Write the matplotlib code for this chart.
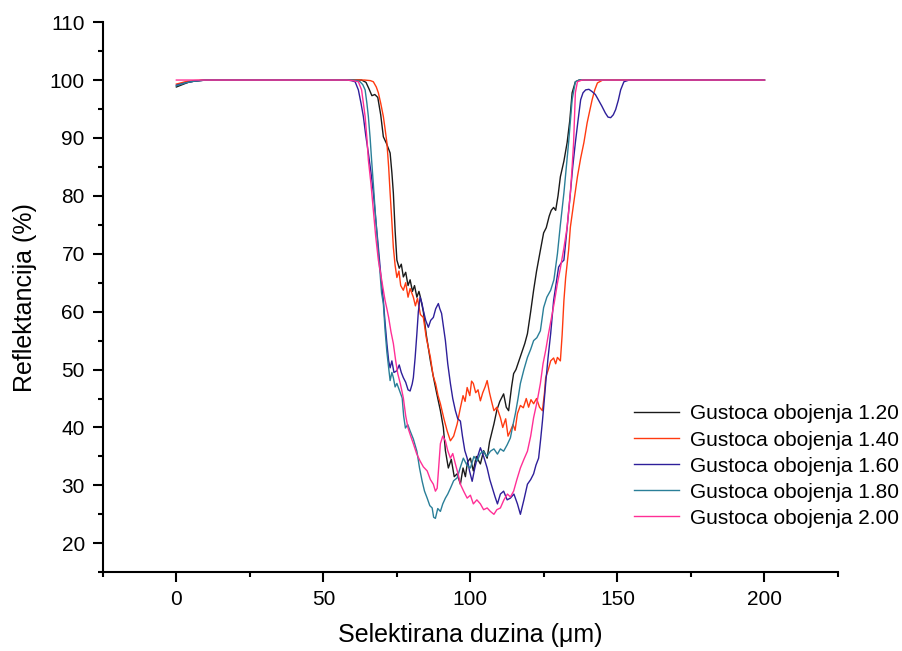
import matplotlib
matplotlib.use('Agg')
import matplotlib.pyplot as plt
from matplotlib.ticker import MultipleLocator

plt.rcParams['font.family'] = ['Liberation Sans', 'DejaVu Sans']

labels = ['Gustoca obojenja 1.20', 'Gustoca obojenja 1.40', 'Gustoca obojenja 1.60',
          'Gustoca obojenja 1.80', 'Gustoca obojenja 2.00']
colors = ['#1a1a1a', '#ff3a10', '#2e1f9a', '#2a7f98', '#ff2f96']

# (x in um, reflectance in %)
x_120 = [0, 2, 4, 6, 8, 10, 60, 63, 64.5, 65.5, 66.5, 67.5, 68.5, 69.5, 70.4, 71.5, 72.7, 73.3, 73.8, 74.4,
         75, 75.8, 76.5, 77.2, 78, 78.8, 79.5, 80.3, 81, 81.8, 82.5, 83, 84, 85, 86.4, 87.5, 88.5, 89.8,
         90.8, 91.5, 92.5, 93.5, 94.5, 95.5, 96.6, 97.5, 98.3, 99, 100, 101, 102, 103.4, 104.5, 105.7,
         106.5, 108, 109, 110, 111.3, 112.2, 113, 114, 114.7, 115.5, 116.5, 117.5, 118.5, 119.4, 120.5,
         121.5, 122.5, 123.8, 124.9, 125.8, 126.8, 127.5, 128.3, 129, 129.8, 130.6, 131.8, 132.9, 133.8,
         134.6, 135.7, 137, 200]
y_120 = [98.8, 99.2, 99.6, 99.8, 99.9, 100, 100, 100, 99.6, 98.5, 97.3, 97.5, 97.0, 94, 90.2, 89, 87.4, 84,
         80.5, 74, 68.9, 67.5, 68.2, 66, 66.8, 64.5, 65.5, 63.5, 64.5, 62.5, 63.5, 62.5, 60, 56, 51.5, 48.5,
         46, 42.9, 40, 36, 33, 34.5, 31.5, 32, 30.2, 33, 31.5, 34, 34.7, 32.5, 35, 33.7, 36, 34.7, 37.5,
         40.6, 43, 44.5, 45.8, 43.5, 42.9, 47, 49.3, 50, 51.5, 53, 54.5, 56.2, 60, 63.7, 67, 70.6, 73.6,
         74.5, 76.5, 77.5, 78, 77.5, 80, 83.3, 86, 89.2, 93, 97.8, 99.7, 100, 100]

x_140 = [0, 3, 6, 10, 64, 66, 67, 68, 68.7, 69.5, 70.4, 71, 71.6, 72.2, 72.7, 73.3, 73.8, 74.4, 75, 75.7,
         76.3, 77.2, 78, 78.8, 79.5, 80.6, 81.3, 82, 83, 84, 85, 86.4, 87.3, 88.2, 89, 89.8, 91, 92.1,
         93.2, 94.3, 95.5, 96.6, 97.5, 98.2, 98.9, 99.8, 100.4, 101, 101.8, 102.6, 103.4, 104.2, 105,
         105.7, 106.5, 107.2, 108, 109, 110.2, 111, 112, 112.8, 113.6, 114.5, 115.2, 116, 117, 118, 119,
         119.8, 120.6, 121.5, 122.5, 123.5, 124.5, 125.2, 125.6, 126.5, 127.3, 128.3, 129, 129.6, 130.6,
         131.2, 131.8, 132.4, 133.4, 134, 135.2, 136.4, 137.5, 138.6, 139.7, 140.5, 141.4, 142.3, 143.2,
         145, 200]
y_140 = [99.3, 99.7, 99.9, 100, 100, 99.9, 99.7, 98.8, 97.8, 96, 93.7, 91.5, 89.2, 85, 80.5, 75.5, 71.1, 68,
         65.9, 67, 64.5, 63.7, 65, 62.5, 64, 62.5, 61, 62.3, 59.5, 59, 55.5, 52.1, 49, 47.5, 45.5, 44.1,
         41.5, 39.4, 37.7, 38.5, 40.6, 43.4, 45.5, 44.5, 46.9, 45.5, 48, 47.6, 46, 46.5, 44.6, 46, 47,
         48.1, 46, 44.5, 42.9, 43.5, 41.7, 40, 41.5, 38.5, 39.4, 40.5, 39.5, 42.4, 43.8, 43.4, 45, 43.5,
         44.8, 44.1, 45, 43.5, 42.9, 46, 48.6, 50, 51.5, 52, 51, 52.1, 51.5, 56, 61.9, 65.9, 70.6, 74.6,
         79, 83.3, 86.5, 89.2, 92.6, 94.5, 96.6, 98.3, 99.5, 100, 100]

x_160 = [0, 3, 6, 10, 58, 59.5, 60.8, 61.9, 62.8, 63.6, 64.4, 65.3, 66.2, 67, 67.8, 68.7, 69.5, 70.4, 71,
         71.6, 72.2, 72.7, 73.3, 74, 75, 75.8, 76.5, 77.2, 78, 78.8, 79.5, 80.2, 80.6, 81.2, 81.8, 82.3,
         82.9, 83.5, 84, 84.8, 85.7, 86.5, 87.4, 88.2, 89.1, 89.6, 90.2, 91.5, 92.3, 93.2, 94, 94.9, 95.7,
         96.6, 97.3, 98.1, 98.9, 99.7, 100.6, 101.5, 102.3, 103.4, 104.5, 105.7, 106.6, 107.5, 108.4,
         109.2, 110.2, 111.3, 112.5, 113.6, 114.8, 116, 117, 118.2, 119.4, 120.5, 121.5, 122.3, 123.2,
         123.9, 124.5, 125, 125.6, 126.4, 127.3, 128.3, 129.2, 130, 131, 131.8, 132.9, 134, 134.8, 135.7,
         136.6, 137.5, 138.3, 139.2, 140.3, 141.4, 142.5, 143.5, 144.7, 145.9, 146.8, 147.7, 148.6, 149.4,
         150.3, 151.1, 152.2, 154, 200]
y_160 = [99.1, 99.5, 99.8, 100, 100, 99.9, 99.7, 98.3, 96, 93.7, 90.5, 87.4, 84, 80.5, 76, 71.1, 66.5, 61.9,
         58, 54.5, 51.5, 50.3, 51.5, 49.5, 49.8, 50.8, 49.5, 48.6, 47.8, 46.5, 46.3, 47.5, 48.6, 52, 56.2,
         60, 62.5, 61.5, 60.2, 58.5, 57.3, 58.5, 59, 60.5, 61.4, 60.5, 59.7, 55, 51, 47.6, 45, 42.9, 41.5,
         41.1, 38.5, 36, 34.7, 32.5, 30.7, 33, 34.7, 36.5, 35, 33, 31, 29.5, 28, 26.8, 28.5, 29, 27.5,
         27.8, 28.5, 26.8, 25, 27.5, 30.2, 31, 32, 33.5, 34.7, 38, 41.1, 44, 47.6, 52, 56.2, 61.9, 65,
         67.7, 68.5, 68.9, 74.5, 80.5, 85, 89.2, 93, 96.6, 97.8, 98.3, 98.4, 98, 97.5, 96.6, 95.5, 94.3,
         93.6, 93.5, 94, 94.9, 96.5, 98.3, 99.7, 100, 100]

x_180 = [0, 3, 6, 10, 60, 61.5, 62.5, 63.4, 64.2, 64.8, 65.3, 65.9, 66.4, 67, 67.6, 68.2, 68.7, 69.3, 69.8,
         70.4, 71, 71.6, 72.2, 72.7, 73.3, 73.8, 74.4, 75, 75.8, 76.8, 77.3, 77.9, 78.7, 79.5, 80.6, 81.8,
         82.7, 83.6, 84.4, 85.3, 86.2, 87, 87.5, 88.1, 88.9, 89.8, 90.6, 91.5, 92.3, 93.2, 94.3, 95.5,
         96.5, 97.6, 98.8, 100, 101.2, 102.3, 103.4, 104.4, 105.6, 106.8, 108, 109.2, 110.2, 111.3, 112.5,
         113.6, 114.5, 115.3, 116.2, 117, 118.2, 119.4, 120.5, 121.5, 122.6, 123.8, 124.9, 126, 127.3,
         128.4, 129.6, 130.6, 131.8, 133.4, 134.6, 135.7, 137, 200]
y_180 = [99.0, 99.5, 99.8, 100, 100, 99.9, 99.7, 99.2, 98.3, 96, 93.7, 90, 86.2, 82, 77.5, 73.5, 70.1, 66.5,
         63.2, 61.4, 56.7, 53, 50.3, 48.1, 49.5, 48.6, 47, 47.6, 46.5, 45.1, 42, 39.9, 40.5, 39.4, 38,
         35.9, 33, 30.7, 29, 27.8, 26.5, 26.1, 24.5, 24.3, 26, 25.5, 26.8, 27.8, 28.5, 29.5, 30.8, 31.3,
         33, 34.7, 33.5, 33, 35, 34.2, 35.5, 35.9, 35, 35.9, 36.3, 35.4, 36.3, 35.9, 37, 38.2, 40.5,
         42.4, 45, 47.6, 50, 52.1, 53.5, 55, 55.5, 56.7, 60.7, 62.5, 63.7, 65.5, 70, 75, 80.5, 89.2,
         96.6, 99.7, 100, 100]

x_200 = [0, 58, 60, 61.9, 63, 64.2, 64.8, 65.3, 66.2, 67, 67.8, 68.7, 69.5, 70.4, 71, 71.6, 72.2, 73, 73.8,
         74.6, 75.3, 76.2, 77.2, 78, 78.8, 79.7, 80.6, 81.7, 82.9, 84, 85.3, 86.4, 87.4, 88.1, 88.7, 89.2,
         89.8, 90.6, 91.5, 92.3, 93.2, 94, 94.9, 95.8, 96.6, 97.7, 98.9, 100, 101, 102.2, 103.4, 104.5,
         105.7, 106.8, 108, 109, 110.2, 111.4, 112.6, 113.6, 114.7, 115.8, 117, 118.2, 119.4, 120.5,
         121.5, 122.7, 123.8, 124.7, 125.6, 126.5, 127.3, 128.5, 129.6, 130.6, 131.8, 132.9, 134, 134.6,
         135.1, 135.7, 136.4, 138, 200]
y_200 = [100, 100, 99.9, 99.7, 98.3, 93.7, 90, 86.2, 82, 77.5, 73, 68.9, 66.5, 63.7, 61.9, 60.5, 59, 56.5,
         54.5, 51.5, 49.3, 47.5, 45.1, 42, 39.9, 38.5, 37.2, 35.5, 34.2, 33.2, 32.5, 31, 30.2, 29, 29.5,
         33, 37.2, 38.5, 37.7, 36, 34.7, 35.5, 33.7, 32, 30.2, 29, 27.8, 28.3, 26.8, 27.5, 26.8, 25.8,
         26.1, 25.5, 25, 25.8, 26.1, 27.5, 28.5, 28, 29, 31, 33, 34.5, 35.9, 38.5, 41.7, 44.5, 47.6, 51,
         53.3, 56, 58.2, 61.5, 64.9, 67.5, 71, 74.6, 80.5, 85, 89.2, 97.8, 99.7, 100, 100]

series = [(x_120, y_120), (x_140, y_140), (x_160, y_160), (x_180, y_180), (x_200, y_200)]

fig = plt.figure(figsize=(9.02, 6.51), dpi=100)
ax = fig.add_axes([0.114, 0.121, 0.815, 0.845])

for (xs, ys), c, lab in zip(series, colors, labels):
    ax.plot(xs, ys, color=c, lw=1.0, label=lab)

ax.set_xlim(-25, 225)
ax.set_ylim(15, 110)
ax.xaxis.set_major_locator(MultipleLocator(50))
ax.xaxis.set_minor_locator(MultipleLocator(25))
ax.yaxis.set_major_locator(MultipleLocator(10))
ax.yaxis.set_minor_locator(MultipleLocator(5))
ax.set_xticks([0, 50, 100, 150, 200])
ax.set_yticks(range(20, 111, 10))

ax.spines['top'].set_visible(False)
ax.spines['right'].set_visible(False)
for s in ['left', 'bottom']:
    ax.spines[s].set_linewidth(1.5)
ax.tick_params(which='major', direction='out', length=7, width=1.5, labelsize=15, pad=6)
ax.tick_params(which='minor', direction='out', length=3.5, width=1.5)

ax.set_xlabel('Selektirana duzina (\u03bcm)', fontsize=18, labelpad=10)
ax.set_ylabel('Reflektancija (%)', fontsize=18, labelpad=9)

ax.legend(loc='upper left', bbox_to_anchor=(0.722, 0.305), frameon=False, fontsize=15,
          handlelength=2.2, handletextpad=0.5, labelspacing=0.34, borderaxespad=0,
          borderpad=0)

fig.savefig('out.png', dpi=100)
